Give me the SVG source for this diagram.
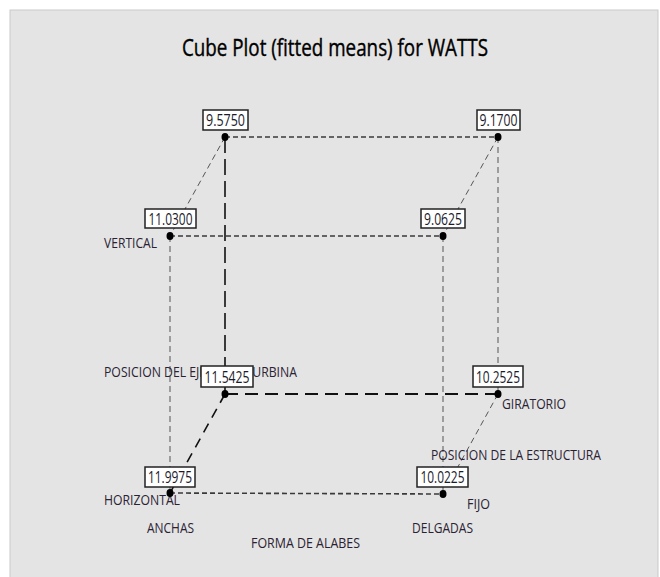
<svg xmlns="http://www.w3.org/2000/svg" width="660" height="577" viewBox="0 0 660 577">
<style>
.bg{fill:#e4e4e4;stroke:#c9c9c9;stroke-width:1}
.title{font-family:"Open Sans","Liberation Sans",Arial,sans-serif;font-size:23px;fill:#000;stroke:#000;stroke-width:0.4}
.lab{font-family:"Open Sans","Liberation Sans",Arial,sans-serif;font-size:15px;fill:#2a2233}
.val{font-family:"Open Sans","Liberation Sans",Arial,sans-serif;font-size:15.5px;fill:#1a1a2a;text-anchor:middle}
.box{fill:#fff;stroke:#222;stroke-width:1.5}
.dot{fill:#000}
.e-med{stroke:#3a3a3a;stroke-width:1.6;stroke-dasharray:5 3;fill:none}
.e-thin{stroke:#555;stroke-width:1;stroke-dasharray:6 4;fill:none}
.e-long{stroke:#111;stroke-width:1.6;stroke-dasharray:16 6;fill:none}
.e-heavy{stroke:#111;stroke-width:2;stroke-dasharray:13 7;fill:none}
</style>
<rect class="bg" x="10" y="10" width="648" height="580"/>
<text class="title" x="182" y="56" textLength="306" lengthAdjust="spacingAndGlyphs">Cube Plot (fitted means) for WATTS</text>
<g id="connectors">
<line class="e-med" x1="225" y1="137" x2="498" y2="137"/>
<line class="e-med" x1="170" y1="236" x2="443" y2="236"/>
<line class="e-thin" x1="225" y1="137" x2="170" y2="236"/>
<line class="e-thin" x1="498" y1="137" x2="443" y2="236"/>
<line class="e-long" x1="225" y1="137" x2="225" y2="394"/>
<line class="e-thin" x1="170" y1="236" x2="170" y2="493"/>
<line class="e-thin" x1="498" y1="137" x2="498" y2="394"/>
<line class="e-thin" x1="443" y1="236" x2="443" y2="494"/>
<line class="e-heavy" x1="225" y1="394" x2="498" y2="394"/>
<line class="e-med" x1="170" y1="493" x2="443" y2="494"/>
<line class="e-long" style="stroke-dasharray:10 7" x1="225" y1="394" x2="170" y2="493"/>
<line class="e-thin" x1="498" y1="394" x2="443" y2="494"/>
</g>
<g id="labels">
<text class="lab" x="104" y="248" textLength="53" lengthAdjust="spacingAndGlyphs">VERTICAL</text>
<text class="lab" x="104" y="377" textLength="193" lengthAdjust="spacingAndGlyphs">POSICION DEL EJE DE LA TURBINA</text>
<text class="lab" x="104" y="505" textLength="76" lengthAdjust="spacingAndGlyphs">HORIZONTAL</text>
<text class="lab" x="147" y="533" textLength="47" lengthAdjust="spacingAndGlyphs">ANCHAS</text>
<text class="lab" x="251" y="548" textLength="109" lengthAdjust="spacingAndGlyphs">FORMA DE ALABES</text>
<text class="lab" x="502" y="409" textLength="64" lengthAdjust="spacingAndGlyphs">GIRATORIO</text>
<text class="lab" x="431" y="460" textLength="170" lengthAdjust="spacingAndGlyphs">POSICION DE LA ESTRUCTURA</text>
<text class="lab" x="467" y="509" textLength="23" lengthAdjust="spacingAndGlyphs">FIJO</text>
<text class="lab" x="412" y="533" textLength="61" lengthAdjust="spacingAndGlyphs">DELGADAS</text>
</g>
<g id="n-9.5750"><rect class="box" x="203" y="110" width="45" height="20"/><text class="val" x="225.5" y="126" textLength="39" lengthAdjust="spacingAndGlyphs">9.5750</text><ellipse class="dot" cx="225" cy="137" rx="3.5" ry="4"/></g>
<g id="n-9.1700"><rect class="box" x="477" y="110" width="43" height="20"/><text class="val" x="498.5" y="126" textLength="38" lengthAdjust="spacingAndGlyphs">9.1700</text><ellipse class="dot" cx="498" cy="137" rx="3.5" ry="4"/></g>
<g id="n-11.0300"><rect class="box" x="145" y="209" width="51" height="19"/><text class="val" x="170.5" y="224.5" textLength="44" lengthAdjust="spacingAndGlyphs">11.0300</text><ellipse class="dot" cx="170" cy="236" rx="3.5" ry="4"/></g>
<g id="n-9.0625"><rect class="box" x="421" y="209" width="44" height="19"/><text class="val" x="443" y="224.5" textLength="38" lengthAdjust="spacingAndGlyphs">9.0625</text><ellipse class="dot" cx="443" cy="236" rx="3.5" ry="4"/></g>
<g id="n-11.5425"><rect class="box" x="201" y="366" width="52" height="21"/><text class="val" x="227" y="382.5" textLength="45" lengthAdjust="spacingAndGlyphs">11.5425</text><ellipse class="dot" cx="225" cy="394" rx="3.5" ry="4"/></g>
<g id="n-10.2525"><rect class="box" x="473" y="366" width="50" height="21"/><text class="val" x="498" y="382.5" textLength="44" lengthAdjust="spacingAndGlyphs">10.2525</text><ellipse class="dot" cx="498" cy="394" rx="3.5" ry="4"/></g>
<g id="n-11.9975"><rect class="box" x="145" y="467" width="50" height="20"/><text class="val" x="170" y="483" textLength="44" lengthAdjust="spacingAndGlyphs">11.9975</text><ellipse class="dot" cx="170" cy="493" rx="3.5" ry="4"/></g>
<g id="n-10.0225"><rect class="box" x="417" y="467" width="51" height="20"/><text class="val" x="442.5" y="483" textLength="44" lengthAdjust="spacingAndGlyphs">10.0225</text><ellipse class="dot" cx="443" cy="494" rx="3.5" ry="4"/></g>
</svg>
